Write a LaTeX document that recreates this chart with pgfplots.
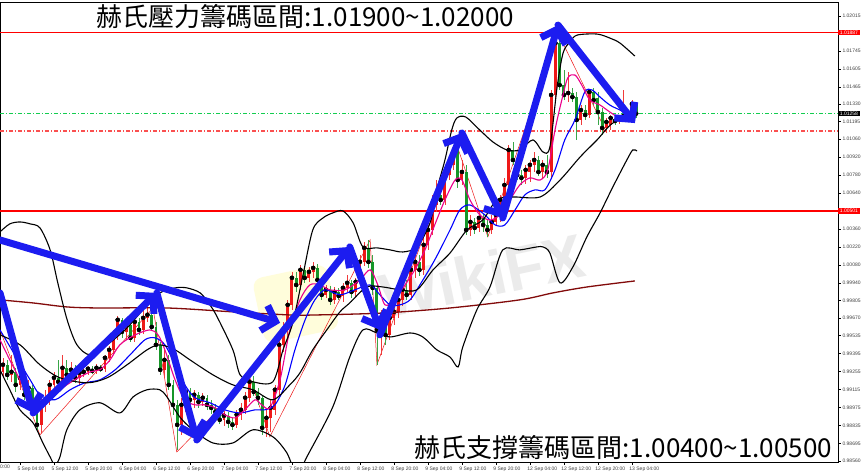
\documentclass[border=0pt]{standalone}
\usepackage{pgfplots}
\pgfplotsset{compat=1.18}
\usepackage{pgfplotstable}
\usetikzlibrary{arrows.meta}
\usepackage{fontspec}
\setmainfont{Liberation Sans}
\newfontfamily\cjk{Noto Sans CJK TC}
\definecolor{cup}{RGB}{238,24,24}
\definecolor{cdn}{RGB}{22,150,40}
\definecolor{arrowblue}{RGB}{28,28,240}
\definecolor{ma200}{RGB}{130,10,10}
\definecolor{dgreen}{RGB}{20,205,80}
\definecolor{lred}{RGB}{250,80,80}

\pgfplotstableread{
i o h l c
0 0.99252 0.99361 0.99206 0.99307
2 0.99229 0.99384 0.99175 0.99252
4 0.99151 0.99268 0.99113 0.99206
6 0.99074 0.99190 0.99019 0.99128
9 0.98841 0.99074 0.98779 0.98996
10 0.98996 0.99113 0.98942 0.99035
11 0.99035 0.99190 0.98996 0.99151
12 0.99151 0.99252 0.99113 0.99206
14 0.99175 0.99384 0.99151 0.99283
16 0.99229 0.99330 0.99175 0.99268
18 0.99206 0.99283 0.99151 0.99245
19 0.99245 0.99283 0.99213 0.99252
20 0.99252 0.99299 0.99229 0.99276
22 0.99260 0.99314 0.99237 0.99283
24 0.99276 0.99384 0.99252 0.99361
25 0.99361 0.99454 0.99330 0.99423
26 0.99423 0.99578 0.99384 0.99539
27 0.99539 0.99687 0.99501 0.99656
29 0.99563 0.99640 0.99501 0.99617
31 0.99516 0.99671 0.99485 0.99640
33 0.99578 0.99733 0.99547 0.99671
34 0.99671 0.99749 0.99640 0.99695
38 0.99268 0.99423 0.99206 0.99345
42 0.98841 0.99051 0.98763 0.98996
43 0.98996 0.99151 0.98942 0.99097
45 0.99035 0.99113 0.98973 0.99074
47 0.99019 0.99089 0.98988 0.99051
52 0.98880 0.98950 0.98833 0.98911
55 0.98841 0.98957 0.98818 0.98919
56 0.98919 0.99012 0.98880 0.98957
57 0.98957 0.99097 0.98926 0.99051
58 0.99051 0.99221 0.99019 0.99175
62 0.98818 0.98957 0.98748 0.98895
63 0.98895 0.99035 0.98787 0.98973
64 0.98957 0.99151 0.98919 0.99113
65 0.99113 0.99501 0.99074 0.99462
66 0.99462 0.99640 0.99407 0.99578
67 0.99578 0.99811 0.99501 0.99772
68 0.99772 1.00028 0.99733 0.99982
70 0.99927 1.00083 0.99889 1.00044
72 0.99982 1.00067 0.99951 1.00028
73 1.00028 1.00106 0.99982 1.00059
76 0.99850 0.99927 0.99827 0.99889
78 0.99811 0.99912 0.99780 0.99873
80 0.99842 0.99943 0.99795 0.99904
81 0.99904 1.00005 0.99873 0.99943
83 0.99873 0.99982 0.99842 0.99951
84 0.99951 1.00160 0.99920 1.00106
85 1.00106 1.00261 1.00075 1.00215
89 0.99578 0.99733 0.99384 0.99640
91 0.99539 0.99718 0.99501 0.99671
92 0.99671 0.99772 0.99617 0.99718
93 0.99718 0.99850 0.99671 0.99811
94 0.99811 0.99951 0.99764 0.99889
96 0.99850 1.00083 0.99811 1.00044
97 1.00044 1.00199 0.99982 1.00106
99 1.00044 1.00292 1.00005 1.00238
100 1.00238 1.00393 1.00199 1.00354
101 1.00354 1.00626 1.00315 1.00548
102 1.00548 1.00742 1.00494 1.00626
104 1.00587 1.00835 1.00548 1.00781
105 1.00781 1.00936 1.00742 1.00859
106 1.00859 1.01014 1.00820 1.00936
108 1.00742 1.00897 1.00703 1.00804
110 1.00354 1.00471 1.00308 1.00416
112 1.00370 1.00494 1.00339 1.00447
115 1.00354 1.00471 1.00323 1.00416
116 1.00416 1.00509 1.00385 1.00471
117 1.00471 1.00626 1.00416 1.00587
118 1.00587 1.00758 1.00540 1.00703
119 1.00703 1.01014 1.00665 1.00975
123 1.00758 1.00859 1.00711 1.00820
124 1.00804 1.00897 1.00727 1.00859
125 1.00859 1.00959 1.00804 1.00897
127 1.00804 1.00897 1.00758 1.00859
129 1.00804 1.01441 1.00758 1.01402
130 1.01402 1.01867 1.01363 1.01805
133 1.01402 1.01580 1.01347 1.01417
136 1.01208 1.01324 1.01169 1.01285
138 1.01247 1.01441 1.01223 1.01425
142 1.01146 1.01223 1.01107 1.01192
143 1.01169 1.01247 1.01130 1.01223
145 1.01200 1.01247 1.01177 1.01223
146 1.01223 1.01441 1.01192 1.01239
147 1.01223 1.01285 1.01208 1.01254
148 1.01254 1.01363 1.01223 1.01332
}\up

\pgfplotstableread{
i o h l c
1 0.99307 0.99345 0.99190 0.99229
3 0.99252 0.99283 0.99097 0.99151
5 0.99206 0.99229 0.99035 0.99074
7 0.99128 0.99151 0.98942 0.98973
8 0.98973 0.98996 0.98802 0.98841
13 0.99206 0.99345 0.99128 0.99175
15 0.99283 0.99345 0.99190 0.99229
17 0.99268 0.99307 0.99167 0.99206
21 0.99276 0.99299 0.99237 0.99260
23 0.99283 0.99307 0.99252 0.99276
28 0.99656 0.99671 0.99516 0.99563
30 0.99617 0.99640 0.99485 0.99516
32 0.99640 0.99671 0.99539 0.99578
35 0.99695 0.99772 0.99578 0.99601
36 0.99601 0.99640 0.99423 0.99462
37 0.99462 0.99485 0.99229 0.99268
39 0.99345 0.99384 0.99113 0.99151
40 0.99151 0.99190 0.98919 0.98996
41 0.98996 0.99035 0.98647 0.98841
44 0.99097 0.99128 0.98996 0.99035
46 0.99074 0.99097 0.98973 0.99019
48 0.99051 0.99074 0.98957 0.98996
49 0.98996 0.99035 0.98926 0.98973
50 0.98973 0.99004 0.98895 0.98942
51 0.98942 0.98973 0.98849 0.98880
53 0.98911 0.98942 0.98818 0.98864
54 0.98864 0.98895 0.98802 0.98841
59 0.99175 0.99221 0.99066 0.99097
60 0.99097 0.99128 0.98996 0.99051
61 0.99051 0.99074 0.98763 0.98818
69 0.99982 1.00028 0.99873 0.99927
71 1.00044 1.00075 0.99943 0.99982
74 1.00059 1.00090 0.99935 0.99966
75 0.99966 0.99989 0.99811 0.99850
77 0.99889 0.99920 0.99772 0.99811
79 0.99873 0.99904 0.99811 0.99842
82 0.99943 0.99966 0.99827 0.99873
86 1.00215 1.00277 1.00059 1.00106
87 1.00106 1.00160 0.99850 0.99904
88 0.99904 0.99927 0.99307 0.99578
90 0.99640 0.99671 0.99462 0.99539
95 0.99889 0.99966 0.99811 0.99850
98 1.00106 1.00160 0.99997 1.00044
103 1.00626 1.00703 1.00548 1.00587
107 1.00975 1.01014 1.00680 1.00742
109 1.00804 1.00859 1.00315 1.00354
111 1.00416 1.00447 1.00323 1.00370
113 1.00447 1.00478 1.00339 1.00393
114 1.00393 1.00432 1.00300 1.00354
120 1.00975 1.01037 1.00859 1.00897
121 1.00897 1.00936 1.00742 1.00781
122 1.00781 1.00820 1.00703 1.00758
126 1.00897 1.00928 1.00773 1.00804
128 1.00859 1.00936 1.00758 1.00804
131 1.01805 1.01883 1.01441 1.01479
132 1.01479 1.01596 1.01363 1.01402
134 1.01417 1.01456 1.01347 1.01386
135 1.01386 1.01425 1.01053 1.01208
137 1.01285 1.01324 1.01208 1.01247
139 1.01425 1.01456 1.01324 1.01363
140 1.01379 1.01425 1.01169 1.01270
141 1.01270 1.01301 1.01091 1.01146
144 1.01208 1.01239 1.01169 1.01200
149 1.01332 1.01347 1.01223 1.01258
}\down

\pgfplotstableread{
x y
-0.7 1.01258
196.5 1.01258
}\greenlevel

\pgfplotstableread{
x y
-0.7 1.01122
196.5 1.01122
}\redlevel

\tikzset{barrow/.style={arrowblue, line width=7pt, line cap=round, line join=round,
  -{Straight Barb[length=12pt,width=26pt]}}}

\begin{document}
\begin{tikzpicture}
\path[use as bounding box] (0,0) rectangle (866pt,475pt);
\fill[white] (0,0) rectangle (866pt,475pt);
% watermark
\fill[orange!9!yellow!14, rotate around={12:(295pt,170pt)}, rounded corners=10pt] (258pt,138pt) rectangle (334pt,204pt);
\node[font=\bfseries\fontsize{62}{62}\selectfont, text=black!8, rotate=12] at (482pt,200pt) {WikiFX};
\begin{axis}[
  at={(0pt,13pt)}, anchor=south west,
  scale only axis, width=838pt, height=460pt,
  xmin=-0.7, xmax=196.5, ymin=0.98552, ymax=1.02124,
  clip mode=individual,
  axis line style={black, line width=0.8pt},
  tick align=outside, major tick length=2.5pt,
  tick style={black, line width=0.5pt},
  scaled y ticks=false,
  ytick pos=right, yticklabel pos=right,
  ytick={0.98560,0.98695,0.98835,0.98975,0.99115,0.99255,0.99395,0.99535,0.99670,0.99805,0.99940,1.00080,1.00220,1.00360,1.00640,1.00780,1.00920,1.01060,1.01195,1.01330,1.01465,1.01605,1.01745,1.02015},
  yticklabels={0.98560,0.98695,0.98835,0.98975,0.99115,0.99255,0.99395,0.99535,0.99670,0.99805,0.99940,1.00080,1.00220,1.00360,1.00640,1.00780,1.00920,1.01060,1.01195,1.01330,1.01465,1.01605,1.01745,1.02015},
  yticklabel style={font=\fontsize{5}{6}\selectfont, text=black!75, anchor=west, xshift=-1.5pt},
  xtick pos=left,
  xtick={4,12,...,148},
  xticklabels={5 Sep 04:00,5 Sep 12:00,5 Sep 20:00,6 Sep 04:00,6 Sep 12:00,6 Sep 20:00,7 Sep 04:00,7 Sep 12:00,7 Sep 20:00,8 Sep 04:00,8 Sep 12:00,8 Sep 20:00,9 Sep 04:00,9 Sep 12:00,9 Sep 20:00,12 Sep 04:00,12 Sep 12:00,12 Sep 20:00,13 Sep 04:00},
  xticklabel style={font=\fontsize{5}{6}\selectfont, text=black!75, anchor=north west, xshift=-6pt, yshift=1.5pt},
]
% horizontal levels (dash-dot)
\addplot[draw=dgreen, line width=1.2pt, dash pattern=on 4pt off 2pt on 1pt off 2pt, mark=none] table[x=x, y=y] {\greenlevel};
\addplot[draw=lred, line width=1.1pt, dash pattern=on 4pt off 2pt on 1pt off 2pt, mark=none] table[x=x, y=y] {\redlevel};
\addplot[red, line width=1.8pt, mark=none] coordinates {(-0.7,1.01887) (196.5,1.01887)};
\addplot[red, line width=1.8pt, mark=none] coordinates {(-0.7,1.00501) (196.5,1.00501)};
% zigzag
\addplot[cup, line width=0.5pt, mark=none] coordinates {(-0.7,0.99578)(8.7,0.98762)(35.3,0.99748)(40.9,0.98630)(58.1,0.99206)(62.8,0.98748)(86.4,1.00277)(88.0,0.99307)(106.8,1.01014)(114.1,1.00300)(130.6,1.01883)(142.1,1.01107)};
% candles: wicks
\addplot[only marks, mark=none, error bars/.cd, y dir=both, y explicit, error mark=none,
  error bar style={cup!85, line width=0.7pt}]
  table[x=i, y=c, y error plus expr=\thisrow{h}-\thisrow{c}, y error minus expr=\thisrow{c}-\thisrow{l}] {\up};
\addplot[only marks, mark=none, error bars/.cd, y dir=both, y explicit, error mark=none,
  error bar style={cdn!85, line width=0.7pt}]
  table[x=i, y=c, y error plus expr=\thisrow{h}-\thisrow{c}, y error minus expr=\thisrow{c}-\thisrow{l}] {\down};
% candles: bodies
\addplot[only marks, mark=none, error bars/.cd, y dir=both, y explicit, error mark=none,
  error bar style={cup, line width=2.9pt, line cap=butt}]
  table[x=i, y=c, y error plus expr=0, y error minus expr=\thisrow{c}-\thisrow{o}] {\up};
\addplot[only marks, mark=none, error bars/.cd, y dir=both, y explicit, error mark=none,
  error bar style={cdn, line width=2.9pt, line cap=butt}]
  table[x=i, y=c, y error plus expr=\thisrow{o}-\thisrow{c}, y error minus expr=0] {\down};
% long MA
\addplot[ma200, line width=1.3pt, smooth, mark=none] coordinates {(-0.7,0.99811)(7.1,0.99787)(15.1,0.99756)(22.8,0.99748)(38.6,0.99748)(54.1,0.99718)(67.5,0.99694)(73.9,0.99694)(89.4,0.99709)(105.2,0.99748)(121.6,0.99811)(129.4,0.99865)(137.4,0.99911)(148.7,0.99958)};
% blue MA
\addplot[blue, line width=1.1pt, smooth, tension=0.5, mark=none] coordinates {(-0.7,0.99578)(2.8,0.99384)(6.4,0.99190)(8.7,0.99074)(12.2,0.99035)(15.8,0.99113)(19.3,0.99167)(22.8,0.99190)(26.4,0.99268)(29.9,0.99384)(33.4,0.99501)(35.8,0.99516)(38.1,0.99462)(40.5,0.99307)(42.8,0.99151)(45.2,0.99051)(48.7,0.99012)(52.2,0.98957)(55.8,0.98933)(59.3,0.98957)(61.6,0.98957)(64.0,0.98996)(66.4,0.99151)(68.7,0.99423)(71.1,0.99656)(73.4,0.99811)(75.8,0.99889)(79.3,0.99850)(82.8,0.99889)(86.4,0.99927)(88.7,0.99850)(91.1,0.99772)(93.4,0.99772)(95.8,0.99811)(98.1,0.99927)(101.6,1.00121)(105.2,1.00354)(107.5,1.00509)(109.9,1.00548)(113.4,1.00471)(115.8,1.00393)(118.1,1.00393)(120.5,1.00509)(122.8,1.00626)(125.2,1.00665)(127.5,1.00665)(129.9,1.00820)(132.2,1.01053)(134.6,1.01208)(136.9,1.01425)(138.6,1.01441)(140.5,1.01386)(142.8,1.01324)(145.2,1.01285)(147.5,1.01247)(148.9,1.01231)};
% magenta MA
\addplot[magenta, line width=1.1pt, smooth, tension=0.5, mark=none] coordinates {(-0.7,0.99501)(1.6,0.99345)(4.0,0.99190)(6.4,0.99035)(8.2,0.98957)(11.1,0.99035)(13.4,0.99113)(16.9,0.99190)(20.5,0.99252)(22.8,0.99268)(25.2,0.99345)(27.5,0.99462)(31.1,0.99539)(34.6,0.99578)(36.5,0.99539)(38.1,0.99423)(40.5,0.99190)(42.8,0.99035)(45.2,0.98996)(47.5,0.98996)(49.9,0.98973)(52.2,0.98919)(54.6,0.98895)(56.9,0.98957)(59.3,0.99035)(60.9,0.98996)(62.8,0.98973)(65.2,0.99190)(67.5,0.99578)(69.9,0.99811)(72.2,0.99927)(74.6,0.99927)(76.9,0.99889)(80.5,0.99889)(84.0,0.99966)(86.4,1.00044)(88.2,0.99927)(89.9,0.99772)(92.2,0.99811)(94.6,0.99927)(96.9,1.00044)(99.3,1.00199)(101.6,1.00393)(104.0,1.00587)(106.4,1.00742)(108.0,1.00742)(109.9,1.00587)(112.2,1.00471)(114.6,1.00431)(116.9,1.00471)(119.3,1.00587)(121.6,1.00703)(124.0,1.00758)(126.4,1.00742)(128.2,1.00820)(129.9,1.01130)(131.5,1.01363)(132.9,1.01534)(134.6,1.01557)(136.2,1.01479)(138.1,1.01363)(140.5,1.01324)(142.8,1.01270)(145.2,1.01223)(147.5,1.01223)(148.9,1.01231)};
% Bollinger bands
\addplot[black, line width=1.1pt, smooth, tension=0.5, mark=none] coordinates {(-0.7,1.00339)(1.6,1.00401)(4.0,1.00416)(6.4,1.00401)(8.7,1.00370)(11.1,1.00199)(12.9,0.99943)(15.1,0.99656)(17.4,0.99462)(20.5,0.99384)(24.5,0.99462)(29.2,0.99594)(33.9,0.99772)(36.9,0.99865)(40.5,0.99904)(43.3,0.99904)(46.4,0.99865)(48.7,0.99772)(50.4,0.99679)(54.1,0.99423)(55.8,0.99229)(58.8,0.99175)(63.5,0.99175)(65.9,0.99423)(68.2,0.99633)(70.6,1.00005)(72.9,1.00354)(75.3,1.00447)(77.6,1.00486)(80.0,1.00502)(82.4,1.00409)(84.7,1.00222)(88.0,1.00215)(91.1,1.00199)(94.1,1.00183)(97.4,1.00222)(100.5,1.00409)(102.1,1.00665)(104.0,1.00897)(105.6,1.01130)(106.8,1.01223)(108.9,1.01231)(112.2,1.01130)(115.3,1.01037)(118.6,1.00975)(121.6,1.00975)(124.7,1.01053)(127.1,1.00959)(128.7,1.00998)(130.4,1.01464)(131.8,1.01728)(133.4,1.01813)(135.1,1.01867)(139.8,1.01875)(142.8,1.01844)(145.2,1.01805)(148.7,1.01704)};
\addplot[black, line width=1.1pt, smooth, tension=0.5, mark=none] coordinates {(-0.7,0.99539)(4.0,0.99462)(8.7,0.99307)(13.4,0.99206)(19.8,0.99167)(24.5,0.99206)(29.2,0.99307)(33.9,0.99423)(36.9,0.99462)(40.5,0.99423)(44.0,0.99345)(49.4,0.99229)(54.1,0.99151)(58.8,0.99113)(63.5,0.99035)(67.5,0.99151)(69.9,0.99245)(72.9,0.99423)(76.2,0.99578)(79.3,0.99718)(81.6,0.99787)(85.6,0.99911)(89.4,0.99911)(93.4,0.99889)(97.4,0.99889)(101.2,1.00044)(105.2,1.00175)(109.2,1.00354)(112.9,1.00431)(116.2,1.00587)(120.0,1.00610)(126.4,1.00610)(131.1,1.00742)(135.8,1.00920)(139.8,1.01053)(143.5,1.01184)(148.2,1.01231)};
\addplot[black, line width=1.1pt, smooth, tension=0.5, mark=none] coordinates {(-0.7,0.99268)(1.6,0.99113)(4.0,0.98957)(7.1,0.98855)(9.4,0.98700)(11.1,0.98591)(12.2,0.98529)(13.4,0.98591)(15.0,0.98800)(18.1,0.98957)(22.8,0.99012)(27.5,0.98933)(30.6,0.99057)(33.9,0.99113)(36.9,0.99113)(38.6,0.99057)(41.6,0.98902)(44.7,0.98802)(49.4,0.98700)(54.1,0.98700)(58.8,0.98802)(63.5,0.98748)(66.8,0.98623)(69.2,0.98451)(71.5,0.98591)(77.6,0.98979)(81.6,0.99367)(84.7,0.99578)(88.0,0.99554)(91.1,0.99523)(95.8,0.99554)(98.8,0.99523)(102.1,0.99423)(105.2,0.99367)(107.1,0.99290)(108.2,0.99445)(111.5,0.99733)(114.6,0.99911)(117.6,1.00199)(121.6,1.00199)(125.6,1.00222)(127.1,1.00222)(128.7,1.00175)(131.1,0.99943)(134.1,1.00066)(137.4,1.00300)(140.5,1.00486)(143.5,1.00687)(146.8,1.00897)(148.2,1.00975)(149.2,1.00967)};
% hand-drawn arrows
\addplot[barrow, mark=none] coordinates {(-0.7,1.00276) (65.2,0.99633)};
\addplot[barrow, mark=none] coordinates {(-0.7,0.99865) (7.1,0.98933)};
\addplot[barrow, mark=none] coordinates {(7.1,0.98933) (36.2,0.99865)};
\addplot[barrow, mark=none] coordinates {(36.2,0.99865) (45.6,0.98723)};
\addplot[barrow, mark=none] coordinates {(45.6,0.98723) (81.6,1.00222)};
\addplot[barrow, mark=none] coordinates {(81.6,1.00222) (88.7,0.99578)};
\addplot[barrow, mark=none] coordinates {(88.7,0.99539) (108.0,1.01107)};
\addplot[barrow, mark=none] coordinates {(108.0,1.01107) (117.6,1.00447)};
\addplot[barrow, mark=none] coordinates {(117.6,1.00447) (130.6,1.01945)};
\addplot[barrow, mark=none] coordinates {(130.6,1.01945) (148.7,1.01184)};
% highlighted price labels
\node[anchor=west, fill=red, text=white, inner sep=0.8pt, font=\fontsize{5}{6}\selectfont] at (axis cs:196.5,1.01887) {\,1.01887\,};
\node[anchor=west, fill=black, text=white, inner sep=0.8pt, font=\fontsize{5}{6}\selectfont] at (axis cs:196.5,1.01258) {\,1.01258\,};
\node[anchor=west, fill=red, text=white, inner sep=0.8pt, font=\fontsize{5}{6}\selectfont] at (axis cs:196.5,1.00501) {\,1.00501\,};
\end{axis}
\node[anchor=north west, inner sep=0pt, text=black!75, font=\fontsize{5}{6}\selectfont] at (0pt,10.5pt) {0:00};
\node[anchor=base west, fill=white, inner sep=1.5pt, font=\cjk\fontsize{26}{29}\selectfont] at (95pt,448pt) {赫氏壓力籌碼區間:1.01900\char`\~1.02000};
\node[anchor=base west, fill=white, inner sep=1.5pt, font=\cjk\fontsize{26}{29}\selectfont] at (413pt,18pt) {赫氏支撐籌碼區間:1.00400\char`\~1.00500};
\end{tikzpicture}
\end{document}
